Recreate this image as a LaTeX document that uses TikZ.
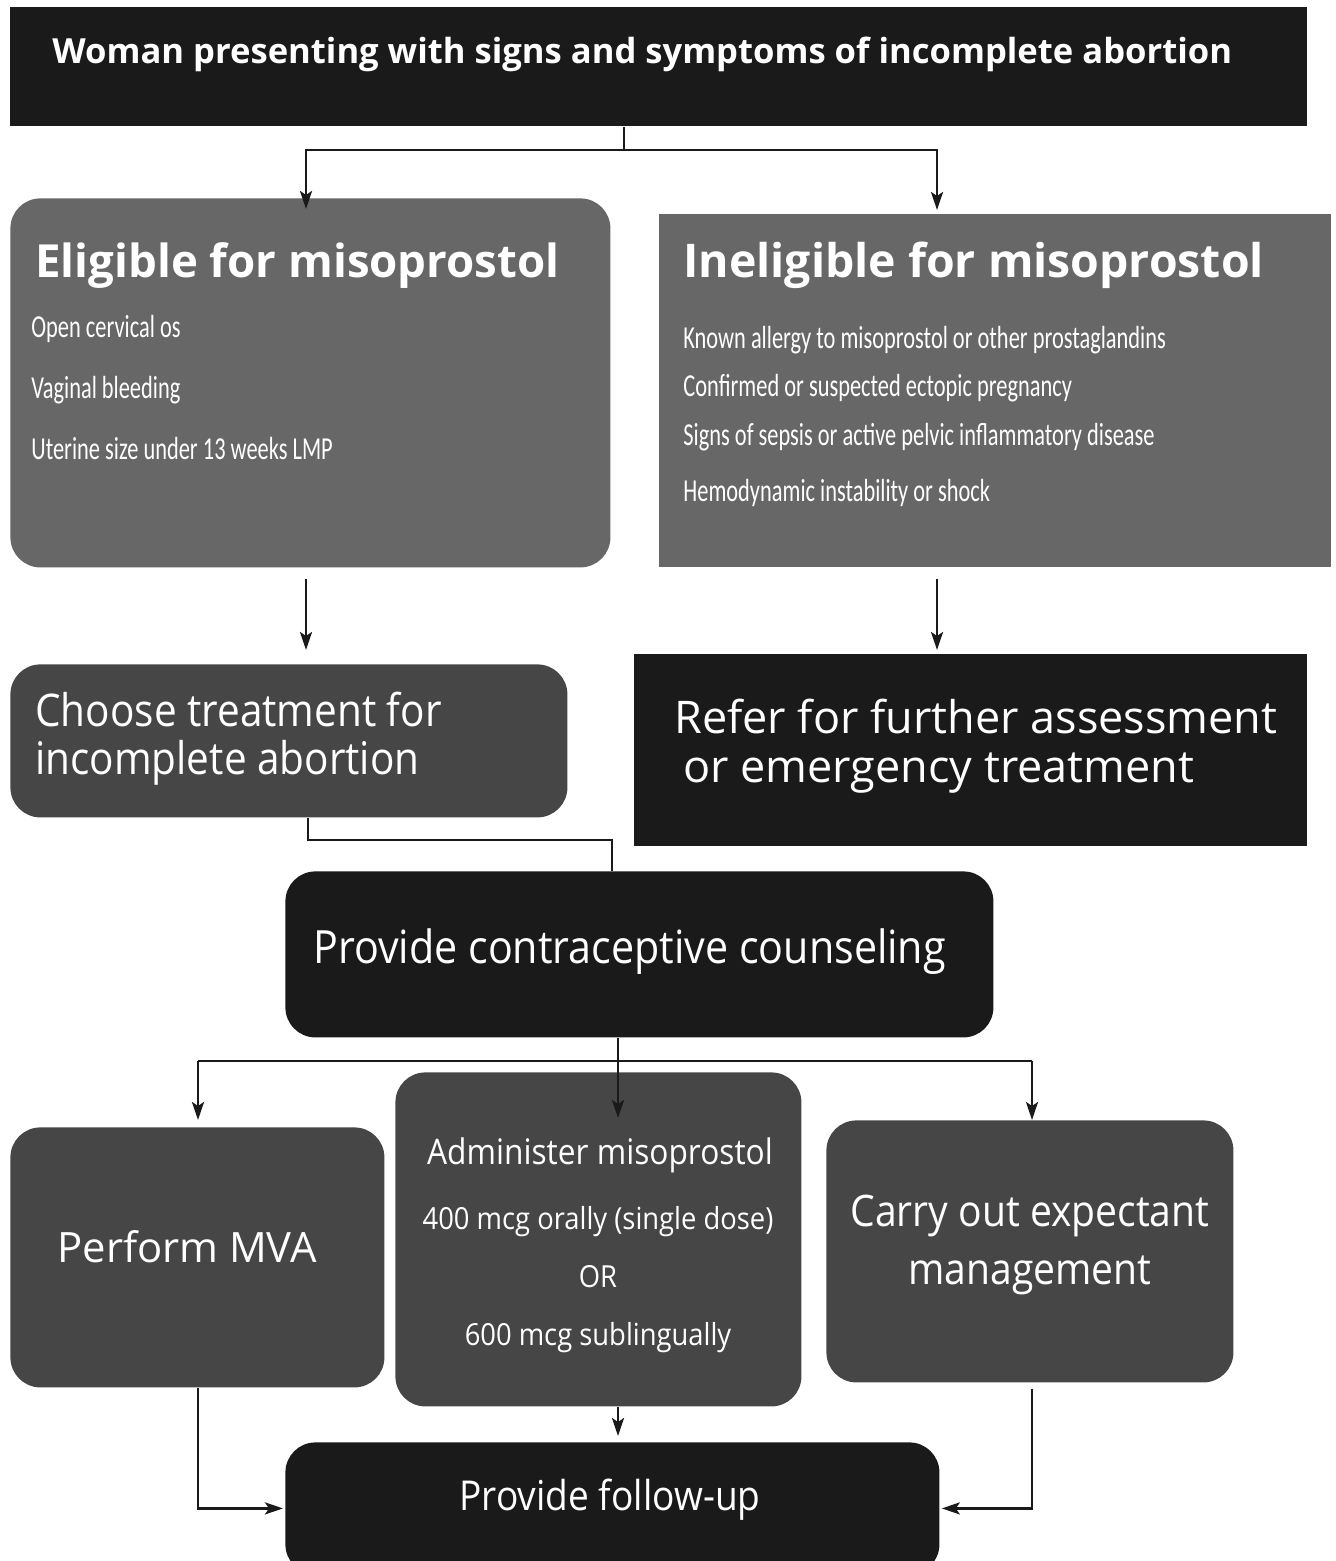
\documentclass[tikz,border=0pt]{standalone}
\usepackage{fontspec}
\setmainfont{Open Sans}
\newfontfamily\narrowfont[FakeStretch=0.70]{Carlito}
\newfontfamily\condfont[FakeStretch=0.90]{Open Sans}
\usetikzlibrary{arrows.meta}

\definecolor{boxblack}{HTML}{1A1A1A}
\definecolor{boxgrey}{HTML}{666766}
\definecolor{boxdark}{HTML}{464646}

\tikzset{
  box/.style={anchor=north west, inner sep=0pt, draw=none},
  blackbox/.style={box, fill=boxblack},
  greybox/.style={box, fill=boxgrey},
  darkbox/.style={box, fill=boxdark},
  round/.style={rounded corners=15pt},
  conn/.style={draw=boxblack, line width=1.3pt},
  arr/.style={conn, -{Stealth[length=9pt, width=6pt, inset=2pt]}},
  txt/.style={text=white, inner sep=0pt},
  itemtxt/.style={txt, anchor=base west, font=\narrowfont\fontsize{16}{19}\selectfont},
}

\begin{document}
\begin{tikzpicture}[x=0.5pt, y=-0.5pt]
        \useasboundingbox (0,0) rectangle (1336,1561);
        % boxes
        \node[blackbox, minimum width=648.5pt, minimum height=59.5pt] (top) at (10,7) {};
        \node[greybox, round, minimum width=300pt, minimum height=184.5pt] (elig) at (10,198) {};
        \node[greybox, minimum width=336pt, minimum height=176.5pt] (inel) at (659,214) {};
        \node[darkbox, round, minimum width=278.5pt, minimum height=76.5pt] (choose) at (10,664) {};
        \node[blackbox, minimum width=336.5pt, minimum height=96pt] (refer) at (634,654) {};
        \node[blackbox, round, minimum width=354pt, minimum height=83pt] (couns) at (285,871) {};
        \node[darkbox, round, minimum width=187pt, minimum height=130pt] (mva) at (10,1127) {};
        \node[darkbox, round, minimum width=203pt, minimum height=167pt] (admin) at (395,1072) {};
        \node[darkbox, round, minimum width=203.5pt, minimum height=131pt] (expect) at (826,1120) {};
        \node[blackbox, round, minimum width=327pt, minimum height=66pt] (follow) at (285,1442) {};
        % texts
        \node[txt, anchor=base west, font=\bfseries\fontsize{17.3}{20}\selectfont] (toptxt) at (52,64)
          {Woman presenting with signs and symptoms of incomplete abortion};
        \node[txt, anchor=base west, font=\bfseries\fontsize{22.8}{27}\selectfont] (eligtxt) at (35,278)
          {Eligible for misoprostol};
        \node[itemtxt] (e1) at (31,338) {Open cervical os};
        \node[itemtxt] (e2) at (31,399) {Vaginal bleeding};
        \node[itemtxt] (e3) at (31,459) {Uterine size under 13 weeks LMP};
        \node[txt, anchor=base west, font=\bfseries\fontsize{23.2}{27}\selectfont] (ineltxt) at (683,278)
          {Ineligible for misoprostol};
        \node[itemtxt] (i1) at (683,349) {Known allergy to misoprostol or other prostaglandins};
        \node[itemtxt] (i2) at (683,397) {Confirmed or suspected ectopic pregnancy};
        \node[itemtxt] (i3) at (683,445) {Signs of sepsis or active pelvic inflammatory disease};
        \node[itemtxt] (i4) at (683,501) {Hemodynamic instability or shock};
        \node[txt, anchor=base west, font=\condfont\fontsize{22.5}{26}\selectfont] (ch1) at (35,726) {Choose treatment for};
        \node[txt, anchor=base west, font=\condfont\fontsize{22.5}{26}\selectfont] (ch2) at (35,774) {incomplete abortion};
        \node[txt, anchor=base west, font=\fontsize{22.5}{26}\selectfont] (rf1) at (674,733) {Refer for further assessment};
        \node[txt, anchor=base west, font=\fontsize{22.5}{26}\selectfont] (rf2) at (683,782) {or emergency treatment};
        \node[txt, anchor=base west, font=\condfont\fontsize{22.9}{27}\selectfont] (cotxt) at (313,963) {Provide contraceptive counseling};
        \node[txt, anchor=base west, font=\fontsize{20.9}{25}\selectfont] (mvatxt) at (57,1262) {Perform MVA};
        \node[txt, anchor=base, font=\condfont\fontsize{17.6}{21}\selectfont] (ad1) at (600,1164) {Administer misoprostol};
        \node[txt, anchor=base, font=\condfont\fontsize{15.2}{18}\selectfont] (ad2) at (598,1229) {400 mcg orally (single dose)};
        \node[txt, anchor=base, font=\condfont\fontsize{15.2}{18}\selectfont] (ad3) at (598,1287) {OR};
        \node[txt, anchor=base, font=\condfont\fontsize{15.2}{18}\selectfont] (ad4) at (598,1345) {600 mcg sublingually};
        \node[txt, anchor=base, font=\condfont\fontsize{21.7}{26}\selectfont] (ex1) at (1030,1226) {Carry out expectant};
        \node[txt, anchor=base, font=\condfont\fontsize{21.7}{26}\selectfont] (ex2) at (1030,1284) {management};
        \node[txt, anchor=base, font=\condfont\fontsize{20.6}{25}\selectfont] (futxt) at (610,1510) {Provide follow-up};
        % connectors
        \coordinate (s1) at (624,150);
        \coordinate (a1) at (306,209);
        \coordinate (a2) at (937,210);
        \draw[arr] (top.south -| s1) -- (s1) -| (a1);
        \draw[arr] (s1) -| (a2);
        \draw[arr, shorten <=5.5pt, shorten >=7pt] (elig.south -| a1) -- (choose.north -| a1);
        \draw[arr, shorten <=5.5pt, shorten >=2pt] (inel.south -| a2) -- (refer.north -| a2);
        \coordinate (c1) at (308,840);
        \coordinate (c2) at (612,840);
        \draw[conn] (choose.south -| c1) -- (c1) -- (c2) -- (couns.north -| c2);
        \coordinate (b0) at (618,1061);
        \coordinate (b1) at (198,1061);
        \coordinate (b2) at (1032,1061);
        \coordinate (t3) at (618,1118);
        \draw[arr] (couns.south -| b0) -- (t3);
        \draw[conn] (b1) -- (b2);
        \draw[arr, shorten >=3.5pt] (b1) -- (mva.north -| b1);
        \draw[arr] (b2) -- (expect.north -| b2);
        \draw[arr, shorten >=3pt] (admin.south -| b0) -- (follow.north -| b0);
        \draw[arr, shorten >=1pt] (mva.south -| b1) |- (follow.west);
        \draw[arr, shorten <=3pt, shorten >=1pt] (expect.south -| b2) |- (follow.east);
\end{tikzpicture}
\end{document}
